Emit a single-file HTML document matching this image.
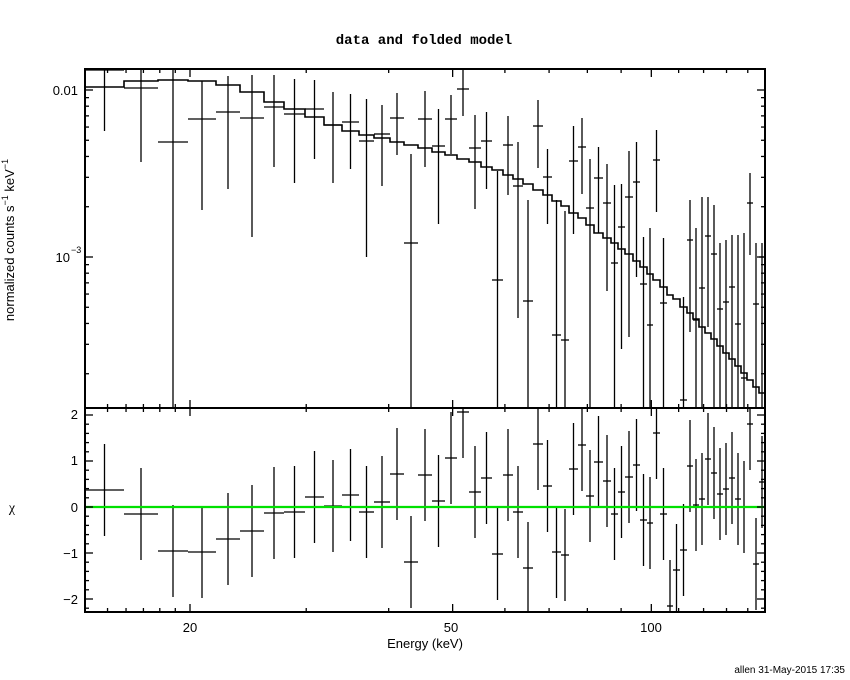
<!DOCTYPE html>
<html><head><meta charset="utf-8"><style>
body{margin:0;background:#fff;}
svg{display:block;font-family:"Liberation Sans",sans-serif;}
</style></head><body>
<svg id="s" width="850" height="680" xmlns="http://www.w3.org/2000/svg">
<rect width="850" height="680" fill="#fff"/>
<text x="424" y="44" text-anchor="middle" font-size="14" font-weight="bold" font-family="Liberation Mono,monospace">data and folded model</text>
<text x="425" y="648" text-anchor="middle" font-size="13">Energy (keV)</text>
<text x="190" y="632" text-anchor="middle" font-size="13">20</text>
<text x="451" y="632" text-anchor="middle" font-size="13">50</text>
<text x="651" y="632" text-anchor="middle" font-size="13">100</text>
<text x="78" y="95" text-anchor="end" font-size="13">0.01</text>
<text x="70" y="262" text-anchor="end" font-size="13">10</text>
<text x="71" y="253" font-size="9">−3</text>
<text x="78" y="419" text-anchor="end" font-size="13">2</text>
<text x="78" y="465" text-anchor="end" font-size="13">1</text>
<text x="78" y="512" text-anchor="end" font-size="13">0</text>
<text x="78" y="558" text-anchor="end" font-size="13">−1</text>
<text x="78" y="604" text-anchor="end" font-size="13">−2</text>
<text transform="translate(14,240) rotate(-90)" text-anchor="middle" font-size="13">normalized counts s<tspan font-size="9" dy="-6">−1</tspan><tspan dy="6"> keV</tspan><tspan font-size="9" dy="-6">−1</tspan></text>
<text x="12" y="512" text-anchor="middle" font-size="14" font-family="Liberation Serif,serif">χ</text>
<text x="845" y="673" text-anchor="end" font-size="10">allen 31-May-2015 17:35</text>
<g id="g"></g>
</svg>
<script>
var E=[85,124,158,188,216,240,264,284,305,324,342,359,374,390,404,418,432,445,457,469,481,492,503,513,523,533,543,552,561,569,578,586,594,603,611,618,625,633,640,647,653,660,667,673,680,687,693,699,705,711,717,723,729,735,741,747,753,759,765];
var M=[87,81,80,81,85,92,102,109,117,125,131,135,138,142,145,148,152,155,159,162,167,170,175,179,184,190,195,201,206,213,218,225,233,238,243,249,254,261,267,274,280,287,295,299,307,313,319,327,333,339,346,353,359,366,373,380,387,393];
var D=[[70,69,131],[88,69,162],[142,69,408],[119,81,210],[112,76,189],[118,75,237],[107,75,167],[114,79,183],[109,80,159],[125,92,183],[122,94,169],[141,99,257],[134,105,186],[118,93,155],[243,154,408],
[119,91,167],[146,109,224],[119,95,154],[89,69,116],[148,115,209],[141,112,189],[280,171,408],[145,116,195],[186,142,318],[301,200,408],[126,100,168],[177,149,224],[335,200,408],[340,211,408],[161,126,234],[147,118,194],[208,159,408],[178,147,233],[203,164,291],[263,185,408],[227,184,349],[197,151,337],[182,142,277],[284,237,408],[325,228,408],[160,130,212],[303,238,408],null,null,[400,297,408],[240,200,332],[320,228,408],[288,197,408],[236,197,327],[254,205,408],[309,243,408],[302,240,408],[287,235,408],[324,235,408],[378,233,408],[203,173,255],[304,243,408],[257,243,408]];
var R=[490,514,551,552,539,531,513,512,497,506,495,512,502,474,562,475,501,458,412,492,478,554,475,512,568,444,486,552,555,469,445,496,462,481,514,492,477,465,520,523,433,514,606,570,550,466,505,499,459,473,494,489,478,499,507,424,564,482];
var s="";
function L(a,b,c,d,w,col){s+='<line x1="'+a+'" y1="'+b+'" x2="'+c+'" y2="'+d+'" stroke="'+(col||'#000')+'" stroke-width="'+(w||1.3)+'"/>';}
var p="M85,"+M[0];
for(var i=0;i<M.length;i++){p+=" L"+E[i]+","+M[i]+" L"+E[i+1]+","+M[i];}
p+=" L765,399";
s+='<path d="'+p+'" fill="none" stroke="#000" stroke-width="1.6"/>';
for(var i=0;i<58;i++){var cx=(E[i]+E[i+1])/2;
 var d=D[i]; if(d){L(E[i],d[0],E[i+1],d[0]);L(cx,Math.max(69,d[1]),cx,d[2]);}
 var r=R[i]; L(E[i],r,E[i+1],r); L(cx,Math.max(409,r-46),cx,Math.min(611,r+46));}
L(85,507,765,507,2.2,'#00e000');
s+='<rect x="85" y="69" width="680" height="339" fill="none" stroke="#000" stroke-width="2"/>';
s+='<rect x="85" y="408" width="680" height="204" fill="none" stroke="#000" stroke-width="2"/>';
function X(e){return 190+660*Math.log10(e/20);}
var xt=[15,16,17,18,19,20,30,40,50,60,70,80,90,100,110,120,130,140,150];
xt.forEach(function(e){var x=X(e);if(x<86||x>764)return;var mj=(e==20||e==50||e==100);var l=mj?8:4;
 L(x,69,x,69+l,1.3);L(x,408,x,408-l,1.3);L(x,408,x,408+l,1.3);L(x,612,x,612-l,1.3);});
function Y(v){return 90-167*(Math.log10(v)+2);}
[2e-4,3e-4,4e-4,5e-4,6e-4,7e-4,8e-4,9e-4,1e-3,2e-3,3e-3,4e-3,5e-3,6e-3,7e-3,8e-3,9e-3,1e-2].forEach(function(v){var y=Y(v);if(y<70||y>407)return;var mj=(v==1e-3||v==1e-2);var l=mj?8:4;L(85,y,85+l,y);L(765,y,765-l,y);});
for(var k=-22;k<=21;k+=2){var v=k/10;var y=507-46*v;if(y<409||y>611)continue;var mj=(k%10==0);var l=mj?8:4;L(85,y,85+l,y);L(765,y,765-l,y);}
document.getElementById('g').innerHTML=s;
</script>
</body></html>
